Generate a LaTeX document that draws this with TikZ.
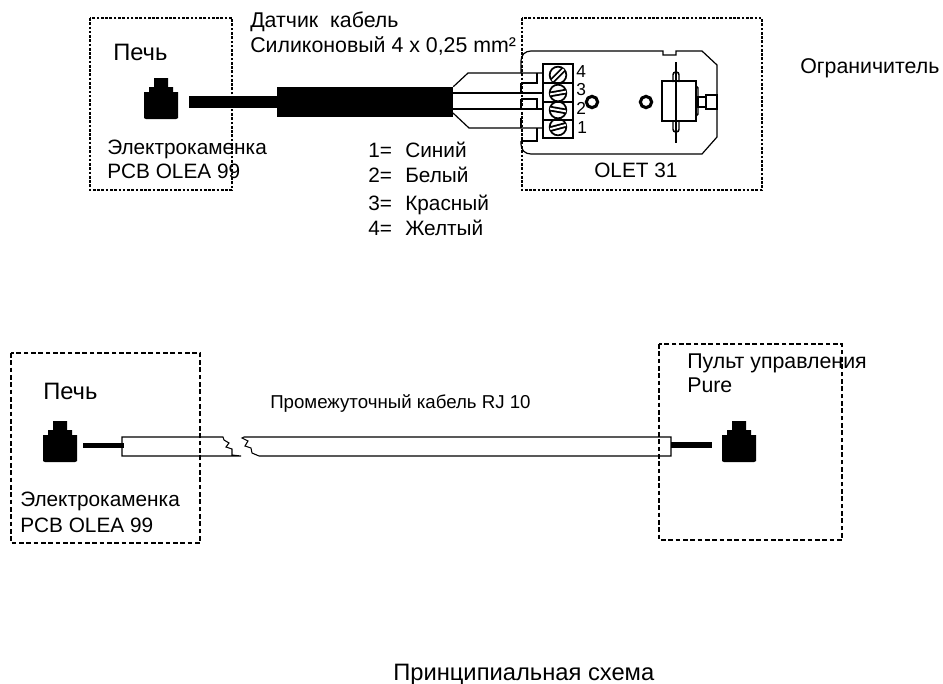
\documentclass[tikz,border=0pt]{standalone}
\usepackage{fontspec}
\setmainfont{Liberation Sans}
\tikzset{
  lbl/.style={anchor=base west,inner sep=0pt,font=\fontsize{15.6}{18}\selectfont},
  lblwide/.style={anchor=base west,inner sep=0pt,font=\fontsize{16}{18}\selectfont},
  lblbig/.style={anchor=base west,inner sep=0pt,font=\fontsize{17.8}{20}\selectfont},
  lblnum/.style={anchor=base west,inner sep=0pt,font=\fontsize{13}{15}\selectfont},
  dotbox/.style={draw,line width=1.1pt,dash pattern=on 2pt off 1.2pt},
  dashbox/.style={draw,line width=1.1pt,dash pattern=on 3.5pt off 2pt},
  wire/.style={draw,line width=0.9pt},
  blk/.style={fill=black,draw=none},
  rj/.pic={\fill (-15,20)--(-17,19)--(-17,-7)--(-12,-7)--(-12,-12)--(-7,-12)--(-7,-21)--(7,-21)--(7,-12)--(12,-12)--(12,-7)--(17,-7)--(17,19)--(15,20)--cycle;},
  screw/.style={circle,draw,line width=1.3pt,minimum size=12.5pt,inner sep=0pt},
  ring/.style={circle,draw,line width=2.3pt,minimum size=8.5pt,inner sep=0pt}
}
\begin{document}
\begin{tikzpicture}[x=0.75pt,y=-0.75pt]
\useasboundingbox (0,0) rectangle (943,683);
% boxes
\draw[dotbox] (90,18) rectangle (232,190);
\draw[dotbox] (522,18) rectangle (762,190);
\draw[dashbox] (11,353) rectangle (200,543);
\draw[dashbox] (659,344) rectangle (842,540);
% top plug and cable
\pic at (161,99) {rj};
\fill (189,96) rectangle (277,108);
\node[blk,minimum width=132pt,minimum height=22.5pt,inner sep=0pt] (cable) at (365,102) {};
% board
\draw[wire] (521,73) -- (521,61) .. controls (521,55) and (525,51) .. (531,51) -- (663,51) -- (663,55) -- (676,55) -- (676,51) -- (702,51) -- (717,65) -- (717,137) -- (702,154) -- (531,154) .. controls (525,154) and (521,150) .. (521,144) -- (521,141);
\draw[wire] (521,83) -- (521,93);
\draw[wire] (521,99) -- (521,109);
\draw[wire] (521,118) -- (521,128);
% terminal block
\node[draw,line width=1.1pt,minimum width=22.5pt,minimum height=55.5pt,inner sep=0pt] (term) at (558,101) {};
\foreach \yy in {83,102,120} \draw[line width=1.1pt] (543,\yy) -- (573,\yy);
\foreach \yy/\nm/\ang in {75/s4/-45,93/s3/-10,110/s2/10,127/s1/-15}{
  \node[screw] (\nm) at (558,\yy) {};
  \draw[line width=4.2pt] (\nm.center) ++(\ang:7.5) -- ++(\ang+180:15);
  \draw[line width=1.4pt,white] (\nm.center) ++(\ang:8) -- ++(\ang+180:16);
}
% wires
\coordinate (t4) at (543,73);
\coordinate (t3) at (543,93);
\coordinate (t2) at (543,109);
\coordinate (t1) at (543,128);
\draw[wire] (cable.north east) -- (468,73) -- (t4);
\draw[wire] (cable.east |- t3) -- (t3);
\draw[wire] (cable.east |- t2) -- (t2);
\draw[wire] (453,113) -- (469,128) -- (t1);
\draw[wire] (521,83) -- (537,83) -- (537,73);
\draw[wire] (521,99) -- (537,99) -- (537,109);
\draw[wire] (521,141) -- (537,141) -- (537,128);
% rings
\node[ring] (r1) at (592,102) {};
\node[ring] (r2) at (646,102) {};
% thermostat
\draw[line width=1.1pt,fill=white,rounded corners=2pt] (673,82) -- (673,72) -- (679,72) -- (679,82);
\draw[line width=1.1pt,fill=white,rounded corners=2pt] (673,121) -- (673,132) -- (679,132) -- (679,121);
\draw[line width=1.1pt] (676,62) -- (676,143);
\draw[line width=1.1pt] (696,86) -- (698,88) -- (698,114) -- (696,116);
\draw[line width=1.1pt] (662,81) rectangle (696,121);
\draw[line width=1.1pt] (698,97) rectangle (706,107);
\draw[line width=1.1pt] (706,95) rectangle (717,109);
% bottom assembly
\pic at (60,442) {rj};
\pic at (739,442) {rj};
\draw[line width=0.8pt] (241,456) -- (232,455) -- (232,449) -- (226,447) -- (229,443) -- (224,440) -- (223,437) -- (122,437) -- (122,456) -- (241,456);
\draw[line width=0.8pt] (259,456) -- (252,453) -- (251,448) -- (245,446) -- (248,441) -- (242,438) -- (244,437) -- (671,437) -- (671,456) -- (259,456);
\fill (83,443) rectangle (124,448);
\fill (671,442) rectangle (712,448);
% texts
\node[lblbig] (t1a) at (113,60) {Печь};
\node[lbl] (t1b) at (107,154) {Электрокаменка};
\node[lbl] (t1c) at (107,178) {PCB OLEA 99};
\node[lblwide] (t2a) at (250,27) {Датчик\ \ кабель};
\node[lblwide] (t2b) at (250,52) {Силиконовый 4 x 0,25 mm²};
\node[lblnum] (d4) at (576,77) {4};
\node[lblnum] (d3) at (576,95) {3};
\node[lblnum] (d2) at (576,114) {2};
\node[lblnum] (d1) at (577,133) {1};
\node[lbl] (ol) at (594,177) {OLET 31};
\node[lblwide] (og) at (800,73) {Ограничитель};
\node[lbl] (l1) at (368,157) {1=};
\node[lbl] (l2) at (368,182) {2=};
\node[lbl] (l3) at (368,210) {3=};
\node[lbl] (l4) at (368,235) {4=};
\node[lbl] (w1) at (405,157) {Синий};
\node[lbl] (w2) at (405,182) {Белый};
\node[lbl] (w3) at (405,210) {Красный};
\node[lbl] (w4) at (405,235) {Желтый};
\node[lblbig] (b1) at (43,399) {Печь};
\node[lbl] (b2) at (20,506) {Электрокаменка};
\node[lbl] (b3) at (20,532) {PCB OLEA 99};
\node[lbl,font=\fontsize{14}{16}\selectfont] (b4) at (270,408) {Промежуточный кабель RJ 10};
\node[lblwide] (b5) at (687,368) {Пульт управления};
\node[lblwide] (b6) at (687,392) {Pure};
\node[lblbig] (b7) at (393,680) {Принципиальная схема};
\end{tikzpicture}
\end{document}
